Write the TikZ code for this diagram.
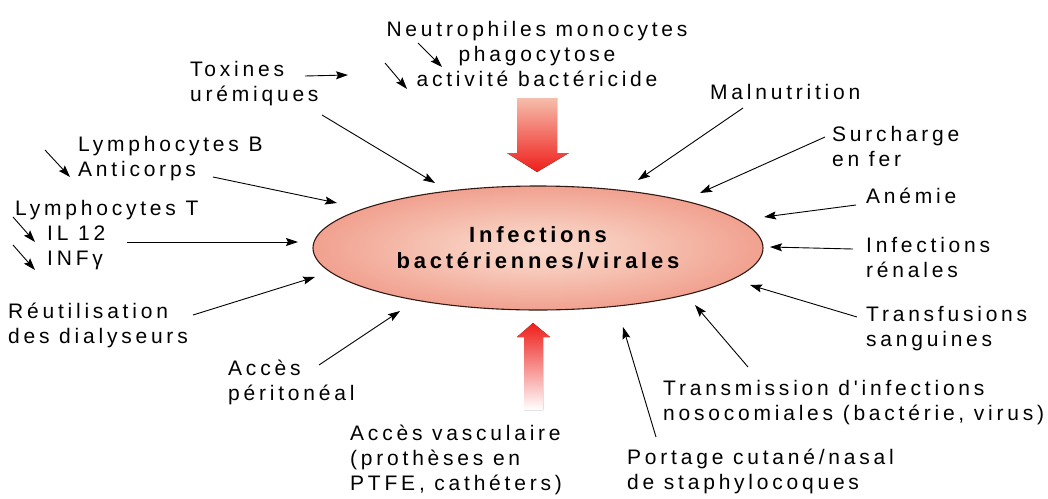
\documentclass[tikz,border=0pt]{standalone}
\usepackage{fontspec}
\newfontfamily\lib{Liberation Sans}[LetterSpace=18]
\newfontfamily\libb{Liberation Sans Bold}[LetterSpace=17]
\usetikzlibrary{arrows.meta,shapes.geometric}
\definecolor{arrred}{RGB}{238,30,26}
\definecolor{arrpink}{RGB}{246,190,172}
\definecolor{ellline}{RGB}{50,25,20}
\pgfdeclareradialshading{ellshade}{\pgfpoint{0bp}{0bp}}{rgb(0bp)=(0.98,0.85,0.80); rgb(8bp)=(0.97,0.80,0.74); rgb(50bp)=(0.91,0.38,0.30)}
\tikzset{
  lbl/.style={font=\lib\fontsize{21}{25}\selectfont, inner sep=0pt, align=left, anchor=base west},
  conn/.style={-{Stealth[length=12pt,width=8pt,inset=2pt]}, line width=0.9pt, black},
}
\begin{document}
\begin{tikzpicture}[x=1pt,y=-1pt]
\useasboundingbox[fill=white] (0,0) rectangle (1048,498);

% big arrows
\fill[top color=arrpink, bottom color=arrred]
  (517,98) -- (557,98) -- (557,153) -- (569,153) -- (537,172) -- (507,153) -- (517,153) -- cycle;
\fill[top color=arrred, bottom color=white]
  (533,323) -- (550,337) -- (543,337) -- (543,410) -- (524,410) -- (524,337) -- (517,337) -- cycle;

% central ellipse
\node[ellipse, draw=ellline, line width=1.1pt, shading=ellshade,
      minimum width=450pt, minimum height=124pt, inner sep=0pt,
      font=\libb\fontsize{22}{26}\selectfont, align=center]
  (inf) at (538,248) {Infections\\bactériennes/virales};

% labels (anchor = baseline of the last line)
\node[lbl, anchor=base, align=center] (neut) at (537,86) {Neutrophiles monocytes\\phagocytose\\activité bactéricide};
\node[lbl] (tox) at (190,101) {Toxines\\urémiques};
\node[lbl] (lymb) at (78,176) {Lymphocytes B\\Anticorps};
\node[lbl] (lymt) at (15,265) {Lymphocytes T\\\hspace*{32pt}IL 12\\\hspace*{32pt}INFγ};
\node[lbl] (reut) at (8,343) {Réutilisation\\des dialyseurs};
\node[lbl] (acp) at (228,400) {Accès\\péritonéal};
\node[lbl] (vasc) at (350,490) {Accès vasculaire\\(prothèses en\\PTFE, cathéters)};
\node[lbl] (port) at (627,489) {Portage cutané/nasal\\de staphylocoques};
\node[lbl] (trans) at (663,420) {Transmission d'infections\\nosocomiales (bactérie, virus)};
\node[lbl] (trf) at (866,346) {Transfusions\\sanguines};
\node[lbl] (ifr) at (866,277) {Infections\\rénales};
\node[lbl] (anem) at (866,203) {Anémie};
\node[lbl] (surc) at (832,166) {Surcharge\\en fer};
\node[lbl] (maln) at (710,99) {Malnutrition};

% connector end points
\coordinate (na1) at (418,43);  \coordinate (na2) at (442,67);
\coordinate (nb1) at (385,63);  \coordinate (nb2) at (407,89);
\coordinate (tx1) at (305,76);  \coordinate (tx2) at (348,75);
\coordinate (lb1) at (45,150);  \coordinate (lb2) at (70,177);
\coordinate (lt1) at (13,217);  \coordinate (lt2) at (35,242);
\coordinate (lt3) at (13,245);  \coordinate (lt4) at (35,270);

\coordinate (toxS) at (322,115);  \coordinate (toxT) at (435,183);
\coordinate (lymbS) at (213,177); \coordinate (lymbT) at (337,203);
\coordinate (ilS) at (127,242);   \coordinate (ilT) at (298,242);
\coordinate (reutS) at (193,315); \coordinate (reutT) at (315,277);
\coordinate (acpS) at (319,365);  \coordinate (acpT) at (400,311);
\coordinate (portS) at (656,437); \coordinate (portT) at (623,327);
\coordinate (transS) at (748,367);\coordinate (transT) at (695,305);
\coordinate (trfS) at (857,317);  \coordinate (trfT) at (750,285);
\coordinate (ifrS) at (853,249);  \coordinate (ifrT) at (770,247);
\coordinate (anemS) at (856,205); \coordinate (anemT) at (764,217);
\coordinate (surcS) at (825,137); \coordinate (surcT) at (700,193);
\coordinate (malnS) at (743,108); \coordinate (malnT) at (638,180);

% small arrows
\draw[conn] (na1) -- (na2);
\draw[conn] (nb1) -- (nb2);
\draw[conn] (tx1) -- (tx2);
\draw[conn] (lb1) -- (lb2);
\draw[conn] (lt1) -- (lt2);
\draw[conn] (lt3) -- (lt4);

% arrows towards the ellipse
\draw[conn] (toxS) -- (toxT);
\draw[conn] (lymbS) -- (lymbT);
\draw[conn] (ilS) -- (ilT);
\draw[conn] (reutS) -- (reutT);
\draw[conn] (acpS) -- (acpT);
\draw[conn] (portS) -- (portT);
\draw[conn] (transS) -- (transT);
\draw[conn] (trfS) -- (trfT);
\draw[conn] (ifrS) -- (ifrT);
\draw[conn] (anemS) -- (anemT);
\draw[conn] (surcS) -- (surcT);
\draw[conn] (malnS) -- (malnT);
\end{tikzpicture}
\end{document}
